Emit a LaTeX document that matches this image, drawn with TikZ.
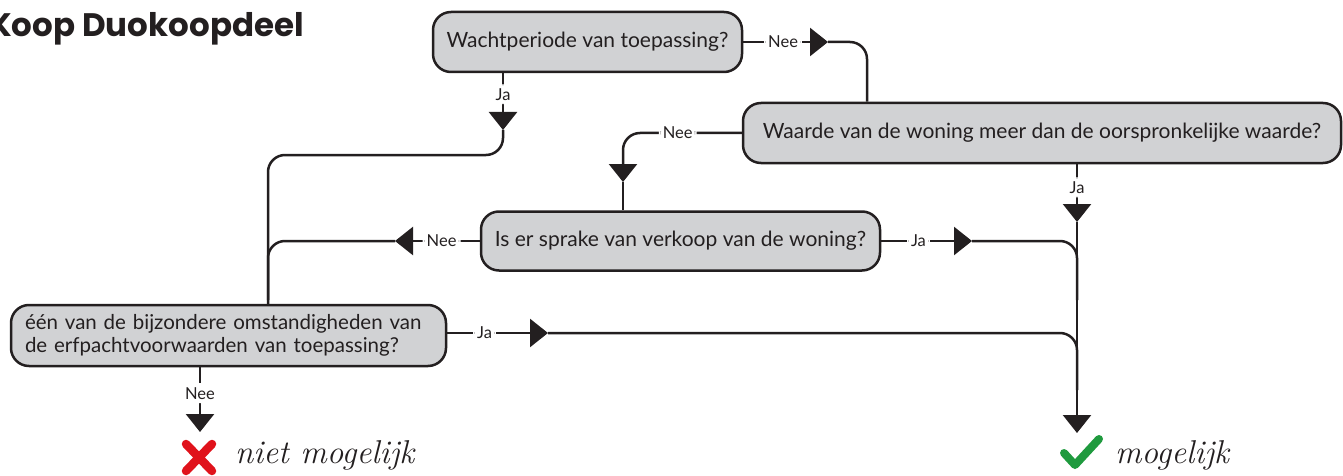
\documentclass[tikz,border=0pt]{standalone}
\usepackage{fontspec}
\usetikzlibrary{arrows.meta}
\newfontfamily\lato{Lato}
\newfontfamily\titlefnt{Poppins}
\definecolor{ink}{HTML}{231F20}
\definecolor{boxgray}{HTML}{D1D2D4}
\definecolor{xred}{HTML}{E0121B}
\definecolor{okgreen}{HTML}{1F9A3E}
\tikzset{
  box/.style={draw=ink, fill=boxgray, line width=2.5pt, rounded corners=18pt,
    font=\lato\fontsize{21}{24}\selectfont, text=ink, inner sep=0pt},
  lbl/.style={fill=white, font=\lato\fontsize{16.5}{18}\selectfont, text=ink, inner sep=4pt},
  con/.style={draw=ink, line width=2.5pt, rounded corners=17pt},
  arr/.style={-{Triangle[width=28pt,length=18pt]}},
  hand/.style={font=\itshape\fontsize{33}{36}\selectfont, text=ink, inner sep=0pt, anchor=base west}
}
\begin{document}
\begin{tikzpicture}[x=1pt,y=-1pt]
\useasboundingbox (0,0) rectangle (1343,476);

% title
\node[font=\titlefnt\bfseries\fontsize{32.5}{36}\selectfont, text=ink, anchor=base east, inner sep=0pt] (title) at (304,37) {Koop Duokoopdeel};

% boxes
\node[box, minimum width=309pt, minimum height=60pt] (b1) at (587.5,42) {Wachtperiode van toepassing?};
\node[box, minimum width=598pt, minimum height=60pt] (b2) at (1042,133) {Waarde van de woning meer dan de oorspronkelijke waarde?};
\node[box, minimum width=399pt, minimum height=59pt] (b3) at (680.5,241) {Is er sprake van verkoop van de woning?};
\node[box, font=\lato\fontsize{20.5}{23.5}\selectfont, minimum width=435pt, minimum height=61pt, text width=407pt, inner xsep=14pt, align=left] (b4) at (228.5,335.5) {één van de bijzondere omstandigheden van\\de erfpachtvoorwaarden van toepassing?};

% coordinates
\coordinate (t1) at (828,42);
\coordinate (k1) at (867,42);
\coordinate (t1b) at (503,130);
\coordinate (k1b) at (503,155);
\coordinate (k1c) at (268,155);
\coordinate (k2) at (623,133);
\coordinate (t2) at (623,182);
\coordinate (t2b) at (1077,222);
\coordinate (t2c) at (1077,433);
\coordinate (t3) at (395,241);
\coordinate (k3) at (268,241);
\coordinate (j3) at (268,300);
\coordinate (t3b) at (972,241);
\coordinate (k3b) at (1077,241);
\coordinate (j3b) at (1077,300);
\coordinate (t4) at (548,333);
\coordinate (k4) at (1077,333);
\coordinate (j4) at (1077,390);
\coordinate (t4b) at (200,432);

% outcomes
\draw[xred, line width=8.5pt, line cap=round] (186,444) -- (212,471) (212,444) -- (186,471);
\node[hand] (nm) at (235,463) {niet mogelijk};
\draw[okgreen, line width=8pt, line cap=round, line join=round] (1064,453) -- (1075,465) -- (1099,439);
\node[hand] (m) at (1115,463) {mogelijk};

% connectors
% Wachtperiode -> Nee -> Waarde
\draw[con, arr] (b1.east) -- node[lbl, pos=0.47]{Nee} (t1);
\draw[con] (t1) -- (k1) -- (b2.north -| k1);
% Wachtperiode -> Ja -> bijzondere
\draw[con, arr] (b1.south -| t1b) -- node[lbl, pos=0.37]{Ja} (t1b);
\draw[con] (t1b) -- (k1b) -- (k1c) -- (b4.north -| k1c);
% Waarde -> Nee -> verkoop
\draw[con, arr] (b2.west) -- node[lbl, pos=0.54]{Nee} (k2) -- (t2);
\draw[con] (t2) -- (b3.north -| t2);
% Waarde -> Ja -> mogelijk
\draw[con, arr] (b2.south -| t2b) -- node[lbl, pos=0.4]{Ja} (t2b);
\draw[con, arr] (t2b) -- (t2c);
% verkoop -> Nee
\draw[con, arr] (b3.west) -- node[lbl, pos=0.45]{Nee} (t3);
\draw[con] (t3) -- (k3) -- (j3);
% verkoop -> Ja
\draw[con, arr] (b3.east) -- node[lbl, pos=0.41]{Ja} (t3b);
\draw[con] (t3b) -- (k3b) -- (j3b);
% bijzondere -> Ja
\draw[con, arr] (b4.east |- t4) -- node[lbl, pos=0.37]{Ja} (t4);
\draw[con] (t4) -- (k4) -- (j4);
% bijzondere -> Nee
\draw[con, arr] (b4.south -| t4b) -- node[lbl, pos=0.4]{Nee} (t4b);
\end{tikzpicture}
\end{document}
